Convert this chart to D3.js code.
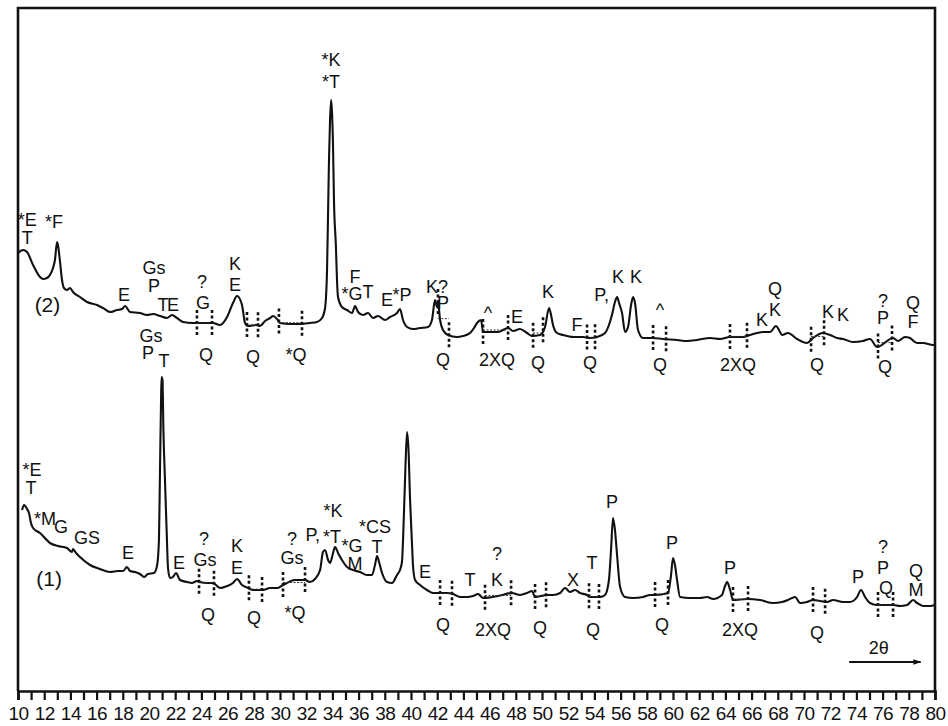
<!DOCTYPE html>
<html><head><meta charset="utf-8">
<script src="https://cdn.jsdelivr.net/npm/d3@7"></script>
<style>
body{margin:0;background:#fff}
svg{display:block}
text{font-family:"Liberation Sans",Arial,sans-serif;fill:#111}
</style>
</head><body><svg id="c" width="948" height="726"></svg>
<script>
// ---------- DATA ----------
const thetaTicks = d3.range(10, 81, 1);
const thetaLabels = d3.range(10, 81, 2);

// Pattern (1) – lower trace
const pattern1Theta = [10.31,10.46,10.69,10.84,10.99,11.15,11.68,12.44,13.05,13.74,14.12,14.20,14.43,14.73,15.50,16.26,17.02,17.63,18.02,18.32,18.55,18.93,19.31,19.62,19.92,20.38,20.61,20.76,20.84,20.92,20.96,21.03,21.10,21.22,21.37,21.45,21.60,21.83,22.06,22.37,22.90,23.28,23.66,23.89,24.43,24.89,25.42,25.96,26.41,26.72,27.10,27.56,27.94,28.70,29.24,29.77,30.23,31.15,31.91,32.29,32.67,33.06,33.28,33.44,33.67,33.82,34.05,34.20,34.43,34.73,35.12,35.57,36.11,36.64,37.02,37.25,37.41,37.56,37.79,38.17,38.55,38.93,39.16,39.31,39.47,39.58,39.70,39.81,39.93,40.08,40.15,40.31,40.69,41.22,41.68,42.22,42.75,43.21,43.74,44.28,44.73,45.12,45.50,46.64,47.71,48.32,48.86,49.24,49.47,50.38,50.84,51.38,51.76,52.14,52.52,52.90,53.44,53.67,54.43,54.81,55.11,55.27,55.42,55.57,55.73,55.96,56.34,56.95,57.71,58.25,58.63,59.62,59.85,60.00,60.15,60.31,60.54,61.30,62.06,62.60,63.06,63.74,63.97,64.13,64.36,64.58,65.65,66.64,67.64,68.32,68.78,69.32,69.70,70.23,70.69,71.76,72.22,72.98,73.51,74.05,74.35,74.66,75.04,75.58,76.80,77.33,77.87,78.33,78.63,79.09,79.62,80.00];
const pattern1Counts = [181,186,182,178,168,163,158,148,145,143,139,142,138,134,126,122,119,120,120,124,120,119,117,114,117,118,125,151,221,291,314,311,261,211,151,123,113,114,118,111,109,108,110,109,108,108,103,105,108,112,106,103,101,101,103,103,106,111,111,109,112,121,139,141,131,128,138,144,138,131,124,121,119,116,116,126,135,129,118,109,108,116,121,129,181,226,259,241,191,146,126,111,106,101,98,98,98,97,94,94,95,97,93,95,98,96,98,100,94,96,96,98,103,99,101,98,96,94,94,96,111,141,173,161,136,104,94,93,94,96,96,98,116,133,126,111,94,93,93,94,92,96,105,109,101,91,92,91,88,89,91,94,88,89,91,89,91,89,89,94,101,94,88,86,86,85,86,91,88,85,85,86];

// Pattern (2) – upper trace (plotted with a vertical offset)
const pattern2Offset = 250;
const pattern2Theta = [10.00,10.38,10.69,11.15,11.68,11.91,12.21,12.44,12.67,12.82,12.98,13.05,13.21,13.36,13.51,13.74,13.97,14.20,14.73,15.27,16.03,16.49,17.02,17.56,17.94,18.17,18.55,19.31,19.85,20.31,20.84,21.37,21.76,22.14,22.60,23.36,24.12,24.89,25.42,25.96,26.41,26.72,27.10,27.33,27.56,28.25,28.47,28.86,29.24,29.47,29.77,30.00,30.76,31.53,32.29,32.82,33.21,33.44,33.59,33.67,33.74,33.82,33.90,33.97,34.05,34.12,34.27,34.35,34.43,34.73,35.12,35.50,35.73,35.96,36.34,36.72,37.10,37.48,38.02,38.40,38.93,39.16,39.39,39.70,40.15,40.69,41.30,41.60,41.83,41.99,42.06,42.22,42.44,42.82,43.51,43.97,44.51,44.81,45.04,45.35,45.50,46.64,47.41,47.79,48.32,48.86,49.24,49.85,50.23,50.54,50.69,50.84,51.15,51.61,52.37,53.13,53.67,54.20,54.81,55.11,55.34,55.57,55.73,55.88,56.11,56.34,56.57,56.80,56.95,57.10,57.33,57.71,58.48,59.24,60.31,61.07,61.84,62.83,63.59,64.35,65.35,65.88,66.42,66.87,67.41,67.86,68.09,68.32,68.78,69.47,70.23,70.69,71.45,71.99,72.52,72.98,73.74,74.50,75.04,75.58,76.80,77.18,77.71,78.09,78.63,79.09,79.85,80.00];
const pattern2Counts = [188,191,189,176,164,162,163,166,173,181,199,196,179,161,153,151,153,149,144,139,136,133,129,131,132,135,129,128,126,127,125,123,126,123,119,118,118,118,116,124,138,145,136,118,115,116,115,120,123,125,122,118,117,117,118,119,123,133,171,228,281,321,341,329,294,241,194,161,144,134,131,128,135,129,126,128,123,125,121,124,128,132,121,114,112,113,114,121,141,134,139,121,111,106,104,105,108,113,118,121,109,109,113,110,112,108,105,106,114,133,126,116,108,106,104,104,103,104,108,116,126,139,144,138,128,109,114,136,144,138,111,103,103,102,101,100,101,103,102,104,104,106,108,109,109,115,111,106,108,102,98,103,108,106,103,102,99,100,102,94,103,100,104,103,98,98,96,96];

// Phase annotations (text, 2θ, level in pattern units)
const pattern1LabelText  = ["*E","T","*M","G","GS","(1)","E","Gs","P","T","E","?","Gs","K","E","?","Gs","P,","*K","*T","*G","M","*CS","T","E","T","?","K","X","T","P","P","P","P","?","P","Q","Q","M"];
const pattern1LabelTheta = [11.07,10.99,12.06,13.28,15.27,12.37,18.40,20.15,19.92,21.15,22.29,24.20,24.28,26.72,26.72,30.92,30.92,32.50,34.05,33.97,35.50,35.73,37.25,37.41,41.07,44.51,46.57,46.57,52.37,53.82,55.34,59.93,64.36,74.12,76.03,76.03,76.26,78.55,78.55];
const pattern1LabelLevel = [221,203,172,164,153,113,138,355,338,330,128,152,131,145,123,152,133,156,180,154,145,127,164,144,119,111,137,111,111,128,189,148,123,114,144,123,103,120,101];

const pattern2LabelText  = ["*E","T","*F","(2)","E","Gs","P","T","E","?","G","K","E","*K","*T","F","*G","T","E","*P","K?","P","^","E","K","F","P,","K","K","^","K","Q","K","K","K","?","P","Q","F"];
const pattern2LabelTheta = [10.70,10.70,12.75,12.25,18.09,20.38,20.38,21.07,21.83,24.05,24.12,26.57,26.57,33.90,33.90,35.73,35.50,36.72,38.17,39.31,41.99,42.44,45.88,48.09,50.46,52.67,54.55,55.80,57.18,59.01,66.80,67.79,67.79,71.83,72.98,76.03,76.03,78.33,78.33];
const pattern2LabelLevel = [221,203,219,137,146,173,155,136,136,159,138,177,156,381,359,164,147,149,141,146,154,138,128,124,149,116,146,164,164,131,121,152,131,129,126,140,123,138,119];

// Quartz-removal markers (pairs of 2θ) and their labels
const pattern1QFrom = [23.82,27.63,30.23,42.22,45.65,49.47,53.59,58.63,64.58,70.69,75.65];
const pattern1QTo   = [24.96,28.63,31.91,43.13,47.64,50.31,54.35,59.62,65.73,71.61,76.80];
const pattern1QText = ["Q","Q","*Q","Q","2XQ","Q","Q","Q","2XQ","Q",""];
const pattern1QTheta = [24.50,28.02,31.15,42.44,46.26,49.85,53.90,59.16,65.12,71.00,76.2];
const pattern1QLevel = [76,73,78,66,61,63,61,66,61,58,58];

const pattern2QFrom = [23.66,27.48,29.92,42.06,45.50,49.32,53.44,58.48,64.35,70.54,75.65];
const pattern2QTo   = [24.81,28.32,31.68,42.90,47.41,50.08,54.05,59.47,65.65,71.53,76.72];
const pattern2QText = ["Q","Q","*Q","Q","2XQ","Q","Q","Q","2XQ","Q","Q"];
const pattern2QTheta = [24.35,27.94,31.22,42.44,46.56,49.70,53.67,59.01,64.96,71.00,76.19];
const pattern2QLevel = [86,84,86,81,81,78,78,76,76,76,74];

// ---------- CHART ----------
const svg = d3.select("#c");
const x = d3.scaleLinear().domain([10, 80]).range([18, 935]);
const y = d3.scaleLinear().domain([0, 683]).range([691, 8]);
const FS = 18;

// frame
svg.append("path")
  .attr("d", `M${x(10)},${y(0)}V${y(683)}H${x(80)}V${y(0)}`)
  .attr("fill", "none").attr("stroke", "#111").attr("stroke-width", 2.6);

// axis
const axis = d3.axisBottom(x).tickValues(thetaTicks).tickSize(9).tickPadding(5)
  .tickFormat(d => (thetaLabels.includes(d) ? d : ""));
const ax = svg.append("g").attr("transform", `translate(0,${y(0)})`).call(axis);
ax.select(".domain").attr("stroke", "#111").attr("stroke-width", 2.6);
ax.selectAll(".tick line").attr("stroke", "#111").attr("stroke-width", 2.2);
ax.selectAll(".tick text").attr("font-size", 19).attr("fill", "#111")
  .attr("font-family", '"Liberation Sans",Arial,sans-serif').attr("dy", "0.78em")
  .attr("letter-spacing", "-0.5");

// traces
function zip(t, c, off) { const n = Math.min(t.length, c.length); return d3.range(n).map(i => [t[i], c[i] + off]); }
const p1 = zip(pattern1Theta, pattern1Counts, 0);
const p2 = zip(pattern2Theta, pattern2Counts, pattern2Offset);
const line = d3.line().x(d => x(d[0])).y(d => y(d[1])).curve(d3.curveMonotoneX);
[p1, p2].forEach(p => svg.append("path").datum(p).attr("d", line)
  .attr("fill", "none").attr("stroke", "#111").attr("stroke-width", 2.1).attr("stroke-linejoin", "round"));

// interpolate value on a trace
function valueAt(p, t) {
  const i = d3.bisector(d => d[0]).left(p, t);
  if (i <= 0) return p[0][1];
  if (i >= p.length) return p[p.length - 1][1];
  const a = p[i - 1], b = p[i];
  return a[1] + (b[1] - a[1]) * (t - a[0]) / (b[0] - a[0]);
}

// markers
function markers(p, from, to, txt, tth, tlv, off) {
  const g = svg.append("g");
  from.forEach((f, i) => {
    const tEnd = to[i];
    [f, tEnd].forEach(t => {
      const v = valueAt(p, t);
      g.append("line").attr("x1", x(t)).attr("x2", x(t))
        .attr("y1", y(v) - 13).attr("y2", y(v) + 14)
        .attr("stroke", "#111").attr("stroke-width", 2.6).attr("stroke-dasharray", "3,2.5");
    });
    const vm = (valueAt(p, f) + valueAt(p, tEnd)) / 2;
    g.append("line").attr("x1", x(f)).attr("x2", x(tEnd)).attr("y1", y(vm)).attr("y2", y(vm))
      .attr("stroke", "#333").attr("stroke-width", 1).attr("stroke-dasharray", "2,1.5");
  });
  txt.forEach((s, i) => {
    if (!s) return;
    g.append("text").attr("x", x(tth[i])).attr("y", y(tlv[i] + off))
      .attr("text-anchor", "middle").attr("dominant-baseline", "central")
      .attr("font-size", FS).text(s);
  });
}
markers(p1, pattern1QFrom, pattern1QTo, pattern1QText, pattern1QTheta, pattern1QLevel, 0);
markers(p2, pattern2QFrom, pattern2QTo, pattern2QText, pattern2QTheta, pattern2QLevel, pattern2Offset);

// phase labels
function labels(txt, th, lv, off) {
  txt.forEach((s, i) => {
    const isNum = s.startsWith("(");
    svg.append("text").attr("x", x(th[i])).attr("y", y(lv[i] + off))
      .attr("text-anchor", "middle").attr("dominant-baseline", "central")
      .attr("font-size", isNum ? 21 : FS).text(s);
  });
}
labels(pattern1LabelText, pattern1LabelTheta, pattern1LabelLevel, 0);
labels(pattern2LabelText, pattern2LabelTheta, pattern2LabelLevel, pattern2Offset);

// 2θ arrow
const defs = svg.append("defs");
defs.append("marker").attr("id", "ah").attr("viewBox", "0 0 10 10").attr("refX", 9).attr("refY", 5)
  .attr("markerWidth", 5).attr("markerHeight", 4).attr("orient", "auto")
  .append("path").attr("d", "M0,1.5L10,5L0,8.5Z").attr("fill", "#111");
svg.append("line").attr("x1", x(73.45)).attr("x2", x(78.9)).attr("y1", 662).attr("y2", 662)
  .attr("stroke", "#111").attr("stroke-width", 2).attr("marker-end", "url(#ah)");
svg.append("text").attr("x", x(75.7)).attr("y", 648).attr("text-anchor", "middle")
  .attr("dominant-baseline", "central").attr("font-size", 18).text("2θ");
</script>
</body></html>
